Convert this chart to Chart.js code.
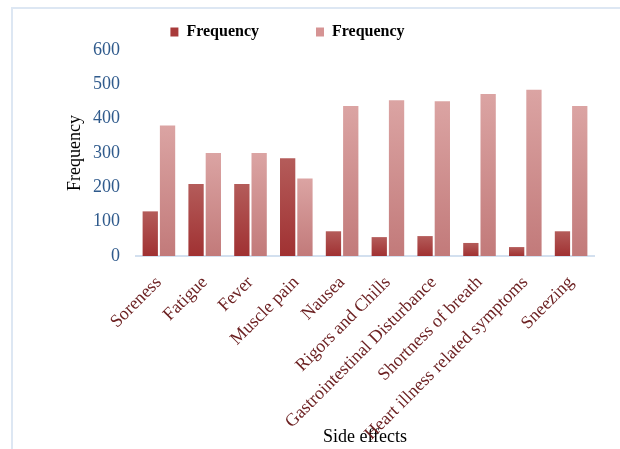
<!DOCTYPE html>
<html>
<head>
<meta charset="utf-8">
<script src="https://cdn.jsdelivr.net/npm/chart.js@4/dist/chart.umd.min.js"></script>
<style>
  html, body { margin: 0; padding: 0; background: #ffffff; }
  #wrap { position: relative; width: 620px; height: 449px; overflow: hidden; }
  /* light frame around the chart (top and left edges visible) */
  #frame { position: absolute; left: 11px; top: 7px; width: 700px; height: 600px;
           border-top: 2px solid #dde7f3; border-left: 2px solid #dde7f3; box-sizing: border-box; }
  #c { position: absolute; left: 0; top: 0; }
</style>
</head>
<body>
<div id="wrap">
  <div id="frame"></div>
  <canvas id="c" width="620" height="449"></canvas>
</div>
<script>
// Reported side effects and their frequencies
const sideEffects = [
  'Soreness', 'Fatigue', 'Fever', 'Muscle pain', 'Nausea',
  'Rigors and Chills', 'Gastrointestinal Disturbance', 'Shortness of breath',
  'Heart illness related symptoms', 'Sneezing'
];
const frequencyA = [130, 210, 210, 285, 72, 55, 58, 38, 26, 72];
const frequencyB = [380, 300, 300, 226, 437, 454, 451, 472, 484, 437];
const seriesNames = ['Frequency', 'Frequency'];
const yTicks = [0, 100, 200, 300, 400, 500, 600];

const SERIF = '"Liberation Serif", "Times New Roman", serif';

// vertical gradient spanning each bar from its top to the baseline
function barGradient(topColor, bottomColor, flat) {
  return function (ctx) {
    const chart = ctx.chart;
    if (!chart.chartArea || ctx.type !== 'data') return flat;
    const yScale = chart.scales.y;
    const v = ctx.raw;
    const yTop = yScale.getPixelForValue(v);
    const yBase = yScale.getPixelForValue(0);
    if (!isFinite(yTop) || Math.abs(yBase - yTop) < 1) return flat;
    const g = chart.ctx.createLinearGradient(0, yTop, 0, yBase);
    g.addColorStop(0, topColor);
    g.addColorStop(1, bottomColor);
    return g;
  };
}

new Chart(document.getElementById('c'), {
  type: 'bar',
  data: {
    labels: sideEffects,
    datasets: [
      {
        label: seriesNames[0],
        data: frequencyA,
        backgroundColor: barGradient('#b45c5a', '#a03132', '#a83a3a'),
        borderWidth: 0,
        categoryPercentage: 0.755,
        barPercentage: 0.885
      },
      {
        label: seriesNames[1],
        data: frequencyB,
        backgroundColor: barGradient('#dba4a3', '#c27a7a', '#d69494'),
        borderWidth: 0,
        categoryPercentage: 0.755,
        barPercentage: 0.885
      }
    ]
  },
  options: {
    responsive: false,
    animation: false,
    devicePixelRatio: 1,
    layout: { padding: { top: -33, left: -19, right: 26, bottom: 0 } },
    plugins: {
      tooltip: { enabled: false },
      legend: {
        position: 'top',
        align: 'center',
        labels: {
          boxWidth: 8,
          boxHeight: 9,
          padding: 57,
          color: '#000000',
          font: { family: SERIF, size: 16, weight: 'bold' },
          generateLabels: function (chart) {
            const cols = ['#a83a3a', '#d69494'];
            return chart.data.datasets.map((ds, i) => ({
              text: ds.label,
              fillStyle: cols[i],
              strokeStyle: cols[i],
              lineWidth: 0,
              hidden: false,
              datasetIndex: i,
              fontColor: '#000000'
            }));
          }
        }
      }
    },
    scales: {
      x: {
        grid: { display: false, drawTicks: false },
        border: { display: true, color: '#d3e0ef', width: 2 },
        ticks: {
          autoSkip: false,
          minRotation: 45,
          maxRotation: 45,
          padding: 16,
          color: '#6b1f20',
          font: { family: SERIF, size: 18 }
        },
        title: {
          display: true,
          text: 'Side effects',
          color: '#000000',
          font: { family: SERIF, size: 18 },
          padding: { top: 0, bottom: 1 }
        },
        afterFit: function (scale) { scale.height = 193; }
      },
      y: {
        min: 0,
        max: 600,
        afterBuildTicks: function (scale) {
          scale.ticks = yTicks.map(v => ({ value: v }));
        },
        grid: { display: false, drawTicks: false },
        border: { display: false },
        ticks: {
          padding: 16,
          color: '#2f5a8c',
          font: { family: SERIF, size: 18 }
        },
        title: {
          display: true,
          text: 'Frequency',
          color: '#000000',
          font: { family: SERIF, size: 18 },
          padding: { top: 83, bottom: 0 }
        },
        afterFit: function (scale) { scale.width = 155; }
      }
    }
  }
});
</script>
</body>
</html>
